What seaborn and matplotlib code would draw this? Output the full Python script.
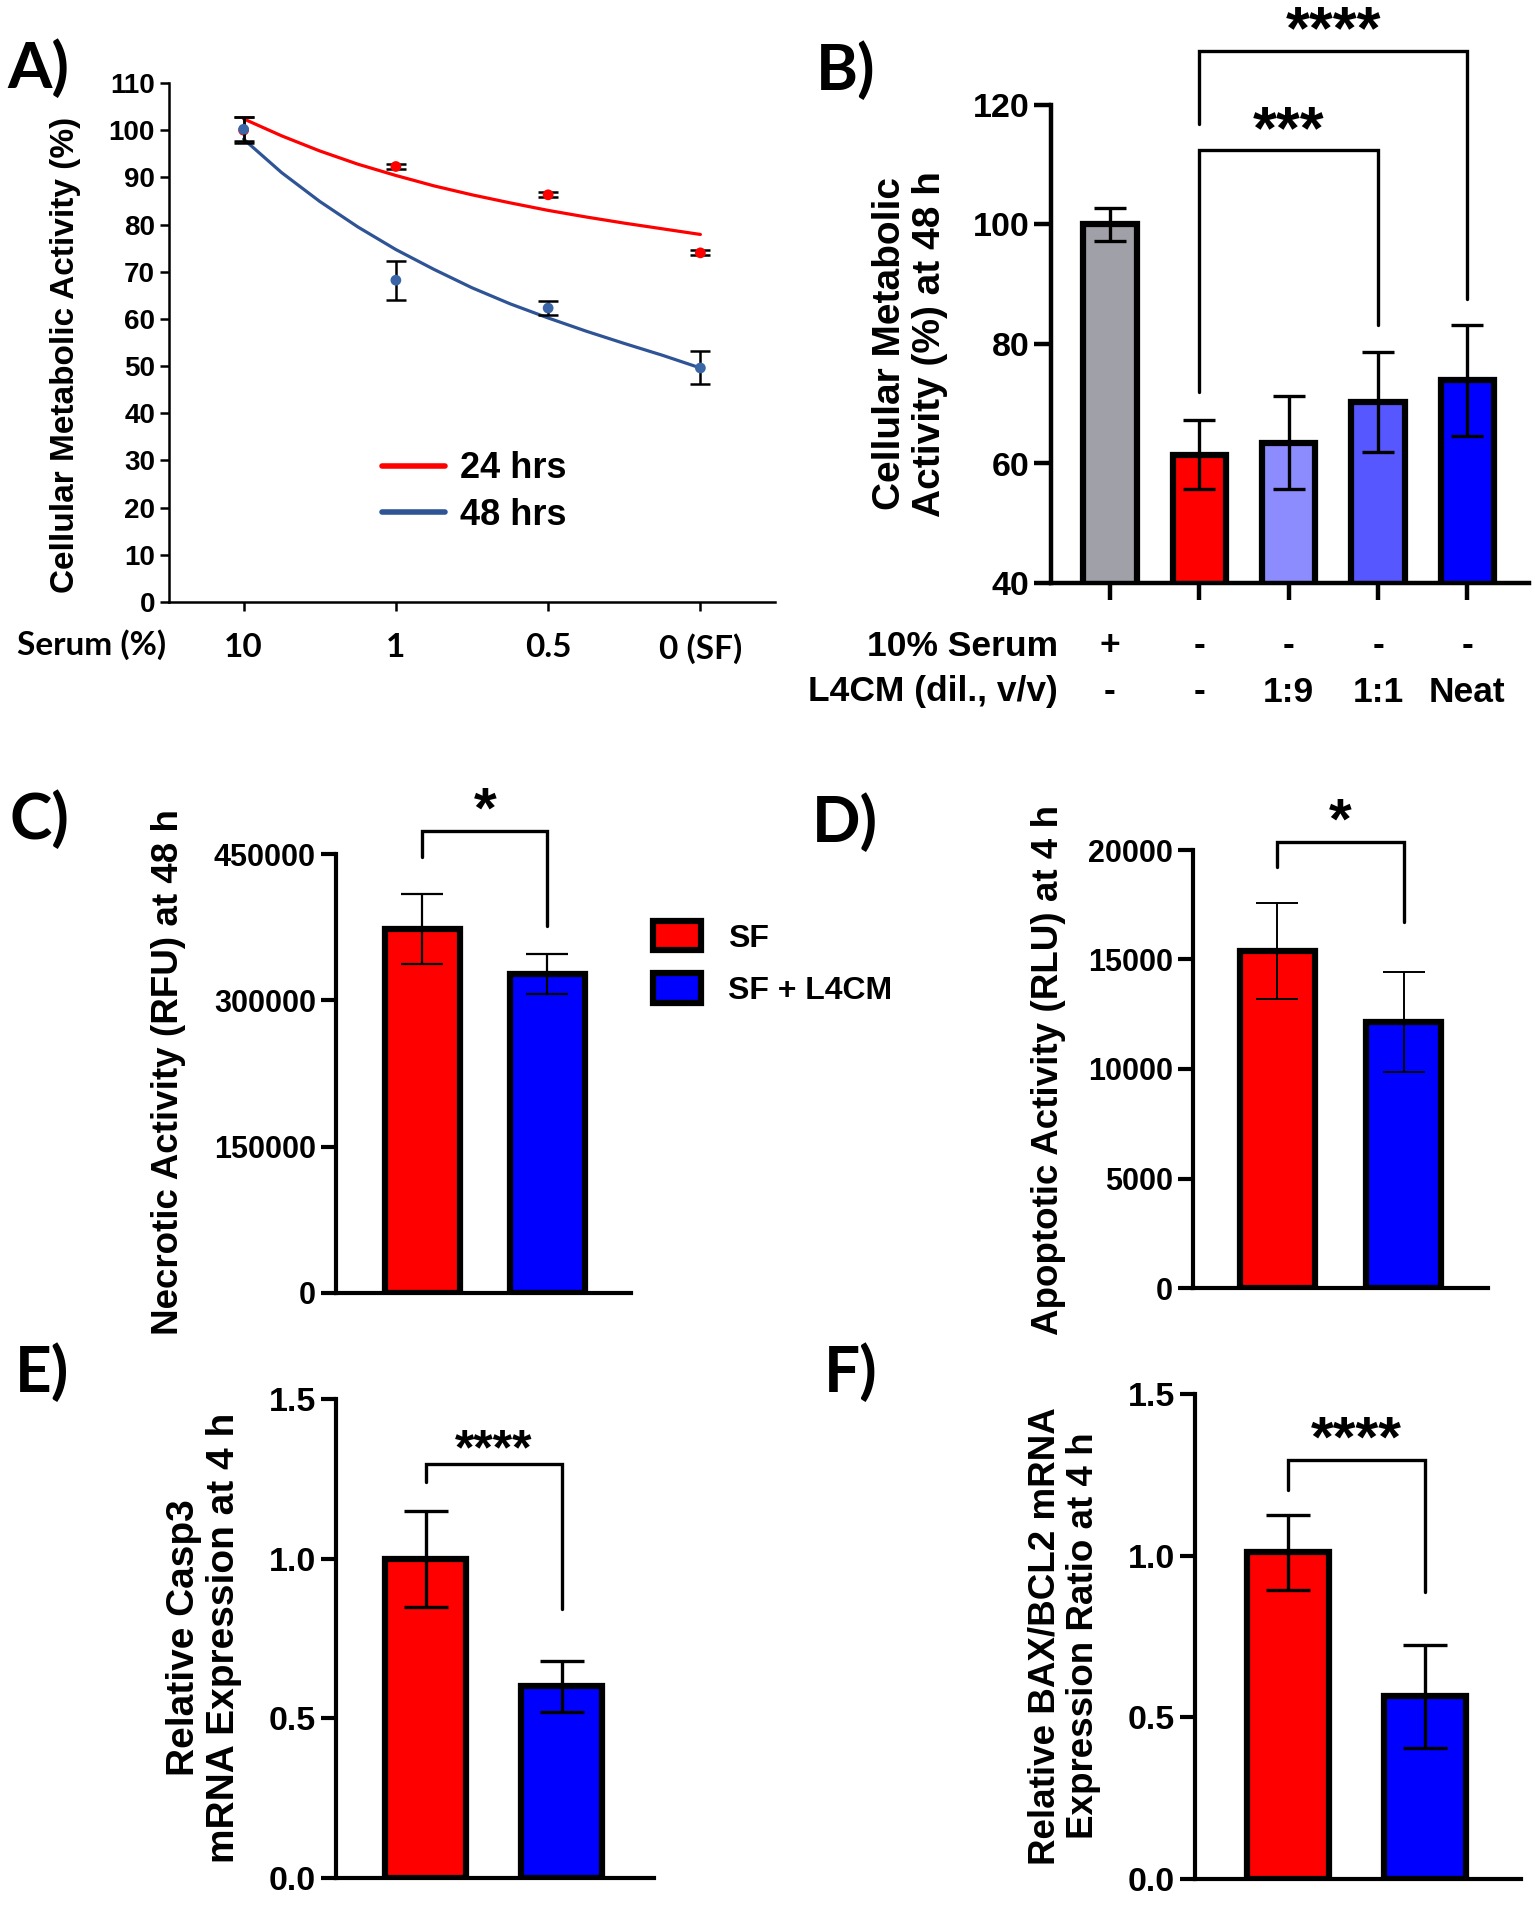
import numpy as np
import pandas as pd
import matplotlib
matplotlib.use("Agg")
import matplotlib.pyplot as plt
from matplotlib.patches import Patch
import seaborn as sns

# ---------------- data ----------------
# A) metabolic activity vs serum
serum_labels = ["10", "1", "0.5", "0 (SF)"]
act_24h = [100.0, 92.3, 86.3, 74.0]
err_24h = [2.8, 0.5, 0.5, 0.5]
act_48h = [100.2, 68.2, 62.3, 49.6]
err_48h = [2.5, 4.1, 1.5, 3.5]
# fitted trend lines, read at quarter steps along the category axis
curve_pos = [0, 0.25, 0.5, 0.75, 1, 1.25, 1.5, 1.75, 2, 2.25, 2.5, 2.75, 3]
fit_24h = [102.4, 98.8, 95.6, 92.8, 90.4, 88.2, 86.3, 84.6, 83.0, 81.6, 80.3, 79.1, 77.9]
fit_48h = [98.1, 91.0, 84.9, 79.5, 74.7, 70.5, 66.6, 63.2, 60.2, 57.4, 54.8, 52.3, 49.6]

# B) metabolic activity at 48 h
b_groups = ["Serum", "SF", "SF 1:9", "SF 1:1", "SF Neat"]
b_mean = [100.0, 61.5, 63.5, 70.3, 73.9]
b_err = [2.7, 5.8, 7.8, 8.3, 9.3]
b_colors = ["#a0a0a8", "#ff0000", "#8c8cff", "#5757ff", "#0000ff"]
serum_row = ["+", "-", "-", "-", "-"]
l4cm_row = ["-", "-", "1:9", "1:1", "Neat"]

# C-F) SF vs SF + L4CM
pair_groups = ["SF", "SF + L4CM"]
pair_colors = ["#ff0000", "#0000ff"]
necrotic_mean = [373000, 327000]
necrotic_err = [36000, 20000]
apoptotic_mean = [15400, 12150]
apoptotic_err = [2200, 2300]
casp3_mean = [1.0, 0.60]
casp3_err = [0.15, 0.08]
bax_mean = [1.01, 0.565]
bax_err = [0.115, 0.16]

# ---------------- style ----------------
sns.set_theme(style="ticks")
plt.rcParams["font.family"] = ["Liberation Sans", "DejaVu Sans"]
plt.rcParams["font.weight"] = "bold"
plt.rcParams["axes.labelweight"] = "bold"
plt.rcParams["text.color"] = "black"
plt.rcParams["axes.labelcolor"] = "black"

W, H = 1535, 1910
fig = plt.figure(figsize=(W / 100, H / 100), dpi=100)


def add_ax(x0, y0, x1, y1):
    return fig.add_axes([x0 / W, 1 - y1 / H, (x1 - x0) / W, (y1 - y0) / H])


def style_axis(ax, lw, ticklen, labelsize):
    sns.despine(ax=ax)
    for s in ["left", "bottom"]:
        ax.spines[s].set_linewidth(lw)
        ax.spines[s].set_color("black")
    ax.tick_params(axis="both", width=lw, length=ticklen, color="black",
                   labelsize=labelsize, labelcolor="black")
    ax.set_facecolor("none")


def ylabel_at(ax, text, x, y, fs):
    ax.set_ylabel(text, fontsize=fs, fontweight="bold", ha="center", va="center",
                  multialignment="center", linespacing=1.12)
    ax.yaxis.set_label_coords(x / W, 1 - y / H, transform=fig.transFigure)


def bracket(ax, x0, x1, ytop, yleft, yright, stars, ystar, fs, lw=2.4):
    ax.plot([x0, x0, x1, x1], [yleft, ytop, ytop, yright], color="black",
            lw=lw, clip_on=False, solid_joinstyle="miter")
    ax.annotate(stars, xy=((x0 + x1) / 2, ystar), xytext=(0, -0.42 * fs),
                textcoords="offset points", ha="center", va="baseline",
                fontsize=fs, fontweight="bold", annotation_clip=False)


def bar_panel(ax, groups, means, errs, colors, elw, cap):
    df = pd.DataFrame({"group": groups, "value": means})
    sns.barplot(data=df, x="group", y="value", hue="group", palette=colors,
                saturation=1, width=0.6, edgecolor="black", linewidth=4.5,
                legend=False, errorbar=None, ax=ax, zorder=2)
    ax.errorbar(range(len(means)), means, yerr=errs, fmt="none", ecolor="black",
                elinewidth=elw, capsize=cap, capthick=elw, zorder=5)
    ax.set_xlabel("")


# ---------------- A ----------------
axA = add_ax(169, 83, 775, 602)
red, blue_line, blue_pt = "#ff0000", "#2f5496", "#3a66a8"
sns.lineplot(x=curve_pos, y=fit_24h, color=red, lw=2.3, label="24 hrs", ax=axA)
sns.lineplot(x=curve_pos, y=fit_48h, color=blue_line, lw=2.3, label="48 hrs", ax=axA)
pos = np.arange(len(serum_labels))
axA.errorbar(pos, act_24h, yerr=err_24h, fmt="none", ecolor="black",
             elinewidth=1.8, capsize=7, capthick=1.8, zorder=3)
sns.scatterplot(x=pos, y=act_24h, color=red, s=60, edgecolor="none", ax=axA, zorder=4)
axA.errorbar(pos, act_48h, yerr=err_48h, fmt="none", ecolor="black",
             elinewidth=1.8, capsize=7, capthick=1.8, zorder=5)
sns.scatterplot(x=pos, y=act_48h, color=blue_pt, s=60, edgecolor="none", ax=axA, zorder=6)
axA.set_ylim(0, 110)
axA.set_yticks(range(0, 111, 10))
axA.set_xlim(-0.49, 3.49)
axA.set_xticks(pos)
axA.set_xticklabels(serum_labels)
style_axis(axA, 1.8, 6.5, 20)
for t in axA.get_xticklabels():
    t.set_fontfamily("Lato")
    t.set_fontsize(24)
    t.set_fontweight("bold")
axA.tick_params(axis="x", pad=16)
ylabel_at(axA, "Cellular Metabolic Activity (%)", 66, 355, 24)
leg = axA.legend(loc="center left", bbox_to_anchor=(382 / W, 1 - 492 / H),
                 bbox_transform=fig.transFigure, frameon=False, fontsize=26,
                 handlelength=1.75, handletextpad=0.4, labelspacing=0.32,
                 borderpad=0, borderaxespad=0)
for line in leg.get_lines():
    line.set_linewidth(4)
fig.text(17 / W, 1 - 645 / H, "Serum (%)", fontsize=24, fontfamily="Lato",
         fontweight="bold", ha="left", va="center")

# ---------------- B ----------------
axB = add_ax(1051, 105, 1529, 583)
bar_panel(axB, b_groups, b_mean, b_err, b_colors, 2.4, 11.3)
axB.set_ylim(40, 120)
axB.set_yticks([40, 60, 80, 100, 120])
axB.set_xlim(-0.66, 4.69)
axB.set_xticks(range(5))
axB.set_xticklabels([""] * 5)
style_axis(axB, 3.2, 12, 24.5)
ylabel_at(axB, "Cellular Metabolic\nActivity (%) at 48 h", 910, 344, 28)
for i in range(5):
    axB.text(i, (583 - 646) / 478, serum_row[i], transform=axB.get_xaxis_transform(),
             ha="center", va="center", fontsize=25.5, fontweight="bold")
    axB.text(i, (583 - 692) / 478, l4cm_row[i], transform=axB.get_xaxis_transform(),
             ha="center", va="center", fontsize=25.5, fontweight="bold")
fig.text(1058 / W, 1 - 646 / H, "10% Serum", ha="right", va="center",
         fontsize=25.5, fontweight="bold")
fig.text(1058 / W, 1 - 692 / H, "L4CM (dil., v/v)", ha="right", va="center",
         fontsize=25.5, fontweight="bold")
bracket(axB, 1, 3, 112.5, 72.0, 83.2, "***", 117.1, 44)
bracket(axB, 1, 4, 129.0, 116.9, 87.6, "****", 133.8, 44)

# ---------------- C ----------------
axC = add_ax(336, 854, 631, 1293)
bar_panel(axC, pair_groups, necrotic_mean, necrotic_err, pair_colors, 1.6, 15)
axC.set_ylim(0, 450000)
axC.set_yticks([0, 150000, 300000, 450000])
axC.set_xlim(-0.69, 1.67)
axC.set_xticks([])
style_axis(axC, 3.0, 11, 22)
ylabel_at(axC, "Necrotic Activity (RFU) at 48 h", 169, 1072, 26.5)
bracket(axC, 0, 1, 473600, 446900, 376000, "*", 502000, 42)
fig.legend(handles=[Patch(facecolor=c, edgecolor="black", linewidth=4.5, label=g)
                    for g, c in zip(pair_groups, pair_colors)],
           loc="upper left", bbox_to_anchor=(653 / W, 1 - 921 / H), frameon=False,
           prop={"weight": "bold", "size": 23},
           handlelength=1.5, handleheight=1.04, handletextpad=0.84,
           labelspacing=0.62, borderpad=0, borderaxespad=0)

# ---------------- D ----------------
axD = add_ax(1193, 850, 1488, 1288)
bar_panel(axD, pair_groups, apoptotic_mean, apoptotic_err, pair_colors, 1.4, 15)
axD.set_ylim(0, 20000)
axD.set_yticks([0, 5000, 10000, 15000, 20000])
axD.set_xlim(-0.67, 1.67)
axD.set_xticks([])
style_axis(axD, 3.0, 11, 22)
ylabel_at(axD, "Apoptotic Activity (RLU) at 4 h", 1049, 1070, 26.5)
bracket(axD, 0, 1, 20365, 19223, 16712, "*", 21640, 42)

# ---------------- E ----------------
axE = add_ax(336, 1399, 654, 1878)
bar_panel(axE, pair_groups, casp3_mean, casp3_err, pair_colors, 2.4, 16)
axE.set_ylim(0, 1.5)
axE.set_yticks([0, 0.5, 1.0, 1.5])
axE.set_yticklabels(["0.0", "0.5", "1.0", "1.5"])
axE.set_xlim(-0.66, 1.68)
axE.set_xticks([])
style_axis(axE, 3.0, 11, 24.5)
ylabel_at(axE, "Relative Casp3\nmRNA Expression at 4 h", 204, 1638, 28)
bracket(axE, 0, 1, 1.298, 1.241, 0.842, "****", 1.36, 36)

# ---------------- F ----------------
axF = add_ax(1195, 1394, 1521, 1879)
bar_panel(axF, pair_groups, bax_mean, bax_err, pair_colors, 2.4, 16)
axF.set_ylim(0, 1.5)
axF.set_yticks([0, 0.5, 1.0, 1.5])
axF.set_yticklabels(["0.0", "0.5", "1.0", "1.5"])
axF.set_xlim(-0.68, 1.70)
axF.set_xticks([])
style_axis(axF, 3.0, 11, 24.5)
ylabel_at(axF, "Relative BAX/BCL2 mRNA\nExpression Ratio at 4 h", 1064, 1636, 26.5)
bracket(axF, 0, 1, 1.295, 1.204, 0.889, "****", 1.383, 42)

# ---------------- panel letters ----------------
for letter, x, y in [("A)", 7, 68), ("B)", 816, 70), ("C)", 10, 819),
                     ("D)", 812, 822), ("E)", 15, 1372), ("F)", 824, 1372)]:
    fig.text(x / W, 1 - y / H, letter, fontsize=46, fontfamily="Lato",
             fontweight="bold", ha="left", va="center")

fig.savefig("out.png", dpi=100, facecolor="white")
